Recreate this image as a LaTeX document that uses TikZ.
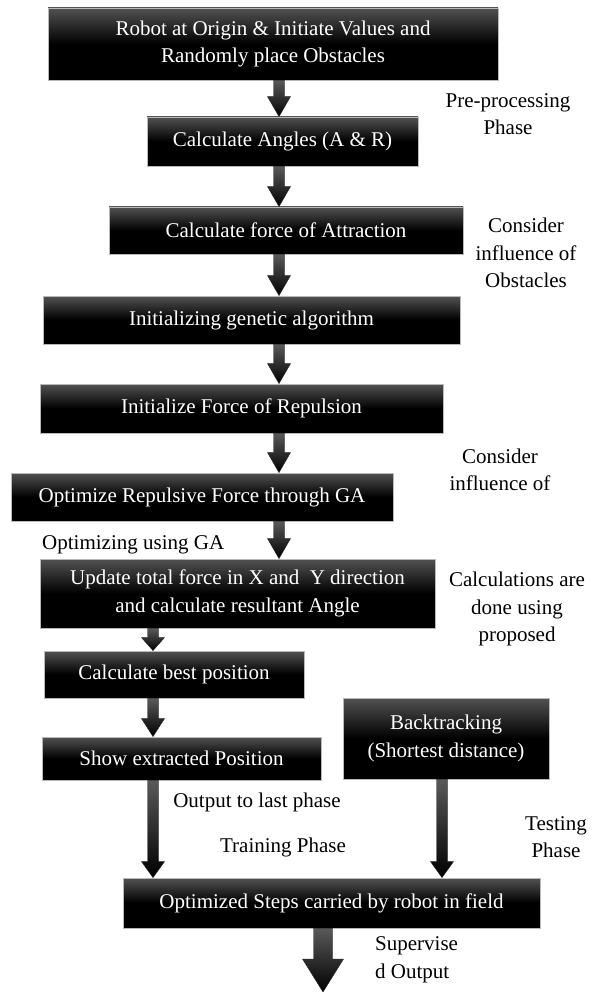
\documentclass[tikz,border=0pt]{standalone}
\usepackage{fontspec}
\setmainfont{LiberationSerif}[Extension=.ttf, UprightFont=*-Regular, BoldFont=*-Bold, ItalicFont=*-Italic, BoldItalicFont=*-BoldItalic]
\usetikzlibrary{calc}
\tikzset{
  box/.style={draw=gray!55, line width=0.8pt, top color=black!68, bottom color=black, middle color=black,
    text=white, align=center, inner sep=0pt, font=\rmfamily\fontsize{21}{27.5}\selectfont},
  lbl/.style={align=center, inner sep=0pt, font=\rmfamily\fontsize{21}{27.5}\selectfont},
  arrowfill/.style={top color=black!65, bottom color=black, draw=black!85, line width=0.4pt}
}
% from, to, shaft half width, head half width, head length
\newcommand\blockarr[5]{%
  \path[arrowfill] let \p1=(#1), \p2=(#2) in
   (\x1-#3,\y1) -- (\x1+#3,\y1) -- (\x1+#3,\y2+#5) -- (\x1+#4,\y2+#5) -- (\x1,\y2)
   -- (\x1-#4,\y2+#5) -- (\x1-#3,\y2+#5) -- cycle;}
\begin{document}
\begin{tikzpicture}[x=1pt,y=-1pt]
\useasboundingbox (0,0) rectangle (597,992);

\node[box, minimum width=450pt, minimum height=72pt] (b1) at (273,44) {Robot at Origin \& Initiate Values and\\Randomly place Obstacles};
\node[box, minimum width=271pt, minimum height=49pt] (b2) at (282.5,141.5) {Calculate Angles (A \& R)};
\node[box, minimum width=354pt, minimum height=47pt] (b3) at (286,230.5) {Calculate force of Attraction};
\node[box, minimum width=417pt, minimum height=48pt] (b4) at (251.5,320) {Initializing genetic algorithm};
\node[box, minimum width=403pt, minimum height=49pt] (b5) at (241.5,408.5) {Initialize Force of Repulsion};
\node[box, minimum width=382pt, minimum height=48pt] (b6) at (202,497) {Optimize Repulsive Force through GA};
\node[box, minimum width=395pt, minimum height=69pt] (b7) at (237.5,593.5) {Update total force in X and\ \ Y direction\\and calculate resultant Angle};
\node[box, minimum width=260pt, minimum height=47pt] (b8) at (174,674.5) {Calculate best position};
\node[box, minimum width=279pt, minimum height=43pt] (b9) at (181.5,758.5) {Show extracted Position};
\node[box, minimum width=206pt, minimum height=81pt] (b10) at (446,738.5) {Backtracking\\(Shortest distance)};
\node[box, minimum width=417pt, minimum height=50pt] (b11) at (331.5,903) {Optimized Steps carried by robot in field};

\coordinate (cA) at (279,0);
\coordinate (cB) at (153,0);
\coordinate (cC) at (442,0);
\coordinate (cD) at (323,0);
\coordinate (fin) at (323,992);

\blockarr{b1.south -| cA}{b2.north -| cA}{5.5pt}{11.5pt}{20pt}
\blockarr{b2.south -| cA}{b3.north -| cA}{5.5pt}{11.5pt}{20pt}
\blockarr{b3.south -| cA}{b4.north -| cA}{5.5pt}{11.5pt}{20pt}
\blockarr{b4.south -| cA}{b5.north -| cA}{5.5pt}{11.5pt}{20pt}
\blockarr{b5.south -| cA}{b6.north -| cA}{5.5pt}{11.5pt}{20pt}
\blockarr{b6.south -| cA}{b7.north -| cA}{5.5pt}{11.5pt}{20pt}
\blockarr{b7.south -| cB}{b8.north -| cB}{5.5pt}{11.5pt}{13pt}
\blockarr{b8.south -| cB}{b9.north -| cB}{5.5pt}{11.5pt}{18pt}
\blockarr{b9.south -| cB}{b11.north -| cB}{5.5pt}{11.5pt}{16pt}
\blockarr{b10.south -| cC}{b11.north -| cC}{5.5pt}{11.5pt}{16pt}
\blockarr{b11.south -| cD}{fin}{9.5pt}{20.5pt}{33pt}

\node[lbl] (pre) at (508,114) {Pre-processing\\Phase};
\node[lbl] (con1) at (526,253) {Consider\\influence of\\Obstacles};
\node[lbl] (con2) at (500,470) {Consider\\influence of};
\node[lbl, anchor=west] (optga) at (42,545) {Optimizing using GA};
\node[lbl] (calc) at (517,609) {Calculations are\\done using\\proposed};
\node[lbl] (out) at (257,802) {Output to last phase};
\node[lbl] (train) at (283,847) {Training Phase};
\node[lbl] (test) at (556,837) {Testing\\Phase};
\node[lbl, align=left, anchor=west] (sup) at (375,960) {Supervise\\d Output};
\end{tikzpicture}
\end{document}
